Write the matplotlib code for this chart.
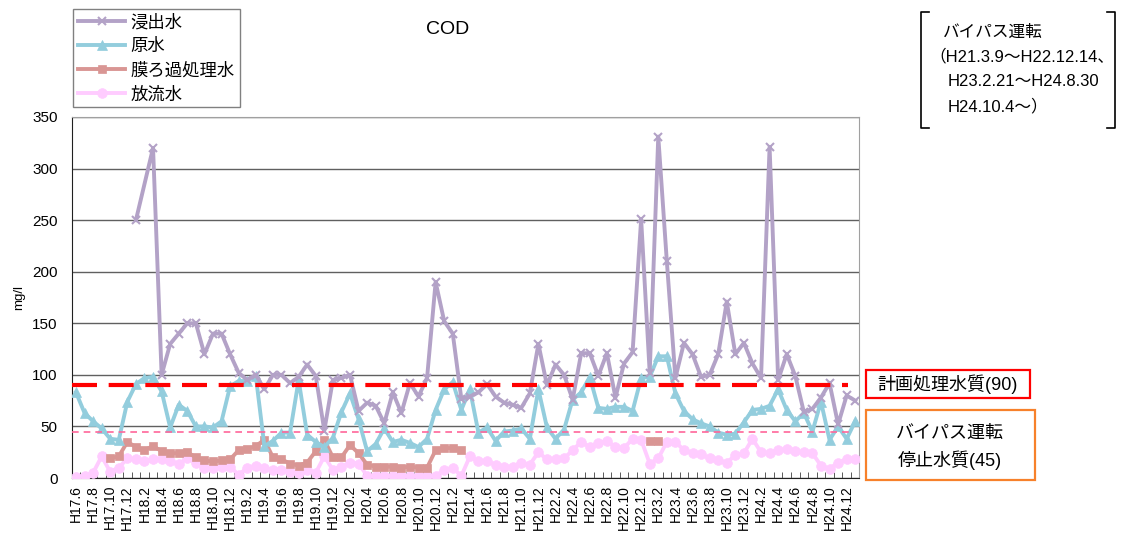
import numpy as np
import matplotlib
matplotlib.use("Agg")
import matplotlib.pyplot as plt
from matplotlib.lines import Line2D
from matplotlib.patches import Rectangle

plt.rcParams['font.family'] = ['Liberation Sans', 'Noto Sans CJK JP', 'DejaVu Sans']

nan = np.nan
# months H17.6 ... H24.12, H25.1 (92 monthly points)
months = []
for y in range(17, 26):
    for m in range(1, 13):
        if (y == 17 and m < 6) or (y == 25 and m > 1):
            continue
        months.append(f"H{y}.{m}")

leachate = [nan, nan, nan, nan, nan, nan, nan, 250, nan, 320,
            100, 130, 140, 150, 150, 120, 140, 140, 120, 102,
            95, 100, 86, 100, 100, 92, 98, 110, 99, 46,
            95, 97, 100, 65, 73, 70, 53, 83, 63, 92,
            79, 97, 190, 152, 140, 77, 79, 83, 91, 79,
            73, 71, 68, 82, 130, 90, 110, 100, 76, 121,
            121, 99, 121, 78, 111, 122, 251, 102, 331, 210,
            97, 131, 120, 98, 100, 120, 171, 120, 131, 111,
            97, 321, 95, 120, 99, 64, 67, 78, 92, 52,
            80, 75]
raw = [83, 63, 55, 48, 38, 37, 74, 91, 97, 98,
       84, 49, 71, 65, 50, 50, 49, 55, 89, 94,
       94, 99, 31, 36, 44, 44, 95, 42, 35, 30,
       39, 64, 82, 57, 26, 33, 48, 35, 37, 34,
       30, 38, 66, 86, 93, 66, 86, 44, 49, 36,
       45, 46, 48, 38, 86, 49, 38, 47, 76, 83,
       98, 68, 67, 69, 69, 65, 97, 98, 118, 118,
       82, 65, 57, 53, 50, 44, 42, 43, 54, 66,
       67, 70, 86, 66, 55, 63, 45, 74, 37, 50,
       38, 55]
membrane = [nan, nan, nan, nan, 19, 21, 35, 30, 27, 31,
            26, 24, 24, 25, 20, 17, 16, 17, 18, 27,
            28, 31, 37, 20, 18, 14, 12, 15, 26, 37,
            20, 20, 32, 24, 13, 11, 11, 11, 10, 11,
            10, 10, 27, 29, 29, 27] + [nan] * 21 + [36, 36] + [nan] * 23
discharge = [1, 2, 5, 21, 6, 10, 19, 18, 16, 18,
             18, 16, 14, 19, 15, 10, 10, 11, 11, 3,
             10, 12, 10, 8, 8, 6, 5, 8, 5, 21,
             8, 11, 15, 14, 2, 2, 2, 2, 2, 2,
             2, 2, 2, 8, 10, 2, 21, 16, 16, 13,
             11, 11, 15, 13, 25, 18, 18, 19, 27, 35,
             30, 34, 36, 30, 29, 38, 37, 14, 19, 35,
             35, 27, 24, 23, 19, 17, 15, 22, 24, 38,
             25, 24, 27, 28, 26, 25, 24, 12, 9, 15,
             18, 18]

plan_level = 90
bypass_level = 45

series_names = ['浸出水', '原水', '膜ろ過処理水', '放流水']
colors = ['#B3A2C7', '#93CDDD', '#D99694', '#FFCCFF']
markers = ['x', '^', 's', 'o']

W, H = 1123, 536
fig = plt.figure(figsize=(W / 100, H / 100), dpi=100)
L, R, T, B = 71.7, 859.5, 117, 478
ax = fig.add_axes([L / W, 1 - B / H, (R - L) / W, (B - T) / H])

x = np.arange(len(months))
lw = 2.8
data = [np.array(leachate, float), np.array(raw, float),
        np.array(membrane, float), np.array(discharge, float)]
msz = [6, 7, 6, 7]
for k, (vals, c, mk) in enumerate(zip(data, colors, markers)):
    if k == 0:
        ok = ~np.isnan(vals)
        xx, yy = x[ok], vals[ok]
    else:
        xx, yy = x, vals
    ax.plot(xx, yy, color=c, lw=lw, marker=mk, ms=msz[k],
            mew=1.5 if mk == 'x' else 0.5, mec=c, mfc=c, zorder=3 + (3 - k) * 0.1)

ax.axhline(plan_level, color='#FF0000', lw=3, ls=(0, (6, 2.8)), xmax=0.985, zorder=5)
ax.axhline(bypass_level, color='#FF6699', lw=1.2, ls=(0, (4, 3)), xmax=0.99, zorder=5)

ax.set_xlim(-0.5, len(months) - 0.5)
ax.set_ylim(0, 350)
ax.set_yticks(np.arange(0, 351, 50))
ax.yaxis.grid(True, color='#606060', lw=1)
ax.set_axisbelow(True)
ax.set_xticks(x[::2])
ax.set_xticklabels(months[::2], rotation=90, fontsize=10)
ax.set_xticks(np.arange(-0.5, len(months)), minor=True)
ax.tick_params(axis='x', which='major', length=0, pad=5)
ax.tick_params(axis='x', which='minor', length=4, direction='in', color='#404040')
ax.tick_params(axis='y', length=0, labelsize=11, pad=10)
for s in ['top', 'right']:
    ax.spines[s].set_color('#A0A0A0')
for s in ['left', 'bottom']:
    ax.spines[s].set_color('#202020')
ax.set_ylabel('mg/l', fontsize=9.5, labelpad=5)

fig.text(448 / W, 1 - 30 / H, 'COD', ha='center', va='center', fontsize=14)

handles = [Line2D([], [], color=c, lw=lw, marker=mk, ms=msz[k], mec=c, mfc=c,
                  mew=1.5 if mk == 'x' else 0.5)
           for k, (c, mk) in enumerate(zip(colors, markers))]
leg = fig.legend(handles, series_names, loc='upper left',
                 bbox_to_anchor=(73 / W, 1 - 8.5 / H), fontsize=12.5,
                 handlelength=2.7, labelspacing=0.45, borderpad=0.3,
                 handletextpad=0.3, fancybox=False, framealpha=1,
                 edgecolor='#808080', borderaxespad=0)
leg.get_frame().set_linewidth(1)

# right-side boxes
def fig_rect(x0, y0, x1, y1, ec):
    fig.patches.append(Rectangle((x0 / W, 1 - y1 / H), (x1 - x0) / W, (y1 - y0) / H,
                                 transform=fig.transFigure, fill=False,
                                 edgecolor=ec, lw=1.6))

fig_rect(866, 370, 1030, 398, '#FF0000')
fig.text(948 / W, 1 - 384 / H, '計画処理水質(90)', ha='center', va='center', fontsize=13)
fig_rect(866, 410, 1035, 480, '#F7812B')
fig.text(950 / W, 1 - 433 / H, 'バイパス運転', ha='center', va='center', fontsize=13)
fig.text(950 / W, 1 - 460 / H, '停止水質(45)', ha='center', va='center', fontsize=13)

# bracket note
def fig_line(xs, ys):
    fig.lines.append(Line2D([v / W for v in xs], [1 - v / H for v in ys],
                            transform=fig.transFigure, color='black', lw=1.2))

fig_line([929, 921, 921, 929], [12, 12, 128, 128])
fig_line([1107, 1115, 1115, 1107], [12, 12, 128, 128])
note_lines = [('バイパス運転', 943, 32), ('（H21.3.9～H22.12.14、', 929, 56),
              ('H23.2.21～H24.8.30', 948, 81), ('H24.10.4～）', 948, 106)]
for t, tx, ty in note_lines:
    fig.text(tx / W, 1 - ty / H, t, ha='left', va='center', fontsize=12)

fig.savefig('out.png', dpi=100)
